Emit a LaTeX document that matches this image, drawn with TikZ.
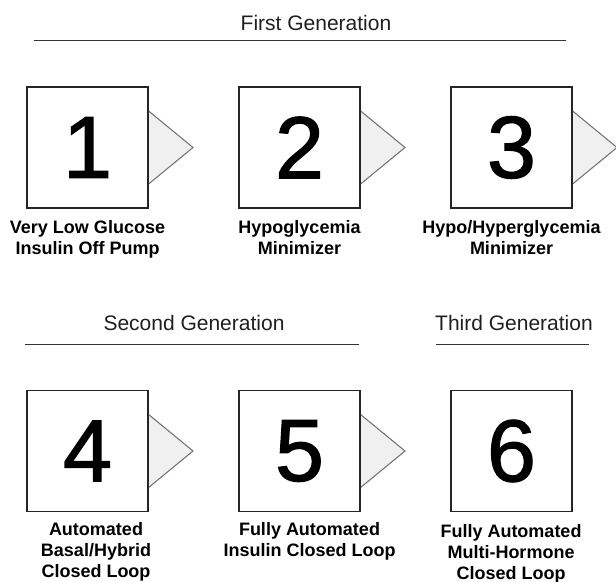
\documentclass[tikz,border=0pt]{standalone}
\usepackage{fontspec}
\setmainfont{Liberation Sans}
% slightly heavier regular face for the large stage numbers
\newfontfamily\stagedigits[FakeBold=1.4]{Liberation Sans}
\usetikzlibrary{calc}

\begin{document}
\begin{tikzpicture}[x=0.75pt,y=-0.75pt,
  stagebox/.style={draw=black!85, line width=0.9pt, fill=white,
    minimum width=90.75pt, minimum height=90.75pt, inner sep=0pt,
    font=\stagedigits\fontsize{66}{66}\selectfont},
  % anchor=base of a multi-line node sits on its last line
  stagelabel/.style={anchor=base, align=center, inner sep=0pt,
    font=\fontsize{13.5}{15.75}\selectfont\bfseries},
  gentitle/.style={anchor=base, inner sep=0pt, text=black!88,
    font=\fontsize{15.75}{18}\selectfont},
  genrule/.style={draw=black!80, line width=0.75pt},
  pointer/.style={draw=black!55, line width=0.8pt, fill=black!6, line join=miter}
]
\useasboundingbox (0,0) rectangle (616,581);

% generation headings and their rules
\node[gentitle] (g1) at (316,31) {First Generation};
\coordinate (g1l) at (34,41);  \coordinate (g1r) at (566,41);
\draw[genrule] (g1l) -- (g1r);

\node[gentitle] (g2) at (194,330) {Second Generation};
\coordinate (g2l) at (25,344); \coordinate (g2r) at (359,344);
\draw[genrule] (g2l) -- (g2r);

\node[gentitle] (g3) at (514,330) {Third Generation};
\coordinate (g3l) at (436,344); \coordinate (g3r) at (589,344);
\draw[genrule] (g3l) -- (g3r);

% pointers between stages (drawn first, boxes sit on top)
\foreach \cx/\cy in {87.5/147.5, 299.5/147.5, 511.5/147.5, 87.5/451, 299.5/451}{
  \filldraw[pointer] (\cx+60.5,\cy-37) -- (\cx+105.5,\cy) -- (\cx+60.5,\cy+37);
}

% stage boxes
\node[stagebox] (s1) at (87.5,147.5) {1};
\node[stagebox] (s2) at (299.5,147.5) {2};
\node[stagebox] (s3) at (511.5,147.5) {3};
\node[stagebox] (s4) at (87.5,451) {4};
\node[stagebox] (s5) at (299.5,451) {5};
\node[stagebox] (s6) at (511.5,451) {6};

% stage descriptions
\node[stagelabel] (l1) at (87.5,254) {Very Low Glucose\\Insulin Off Pump};
\node[stagelabel] (l2) at (299.5,254) {Hypoglycemia\\Minimizer};
\node[stagelabel] (l3) at (511.5,254) {Hypo/Hyperglycemia\\Minimizer};
\node[stagelabel] (l4) at (96,577) {Automated\\Basal/Hybrid\\Closed Loop};
\node[stagelabel] (l5) at (309.5,556) {Fully Automated\\Insulin Closed Loop};
\node[stagelabel] (l6) at (511,579) {Fully Automated\\Multi-Hormone\\Closed Loop};
\end{tikzpicture}
\end{document}
